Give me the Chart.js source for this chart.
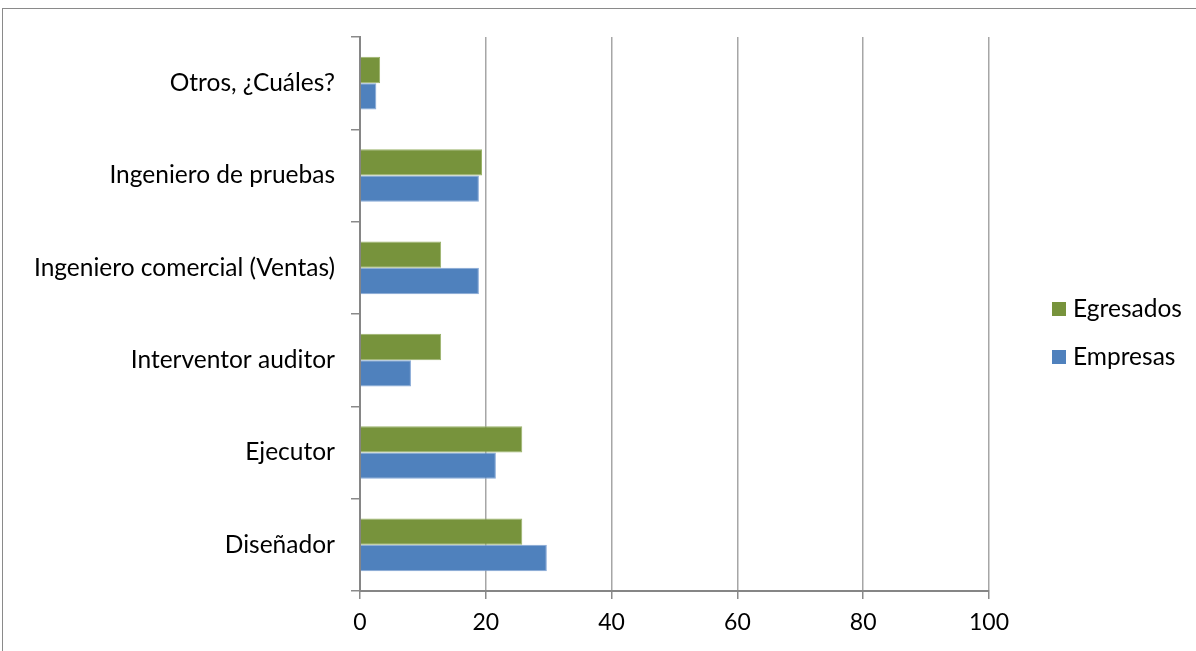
<!DOCTYPE html>
<html>
<head>
<meta charset="utf-8">
<script src="https://cdn.jsdelivr.net/npm/chart.js@4/dist/chart.umd.min.js"></script>
<style>
  html, body { margin: 0; padding: 0; background: #fff; overflow: hidden; }
  #wrap { position: absolute; left: 0; top: 0; width: 1196px; height: 651px; }
  #frame { position: absolute; left: 2px; top: 8px; width: 1300px; height: 700px; border: 1px solid #8a8a8a; box-sizing: border-box; pointer-events: none; }
  canvas { position: absolute; left: 0; top: 0; }
</style>
</head>
<body>
<div id="wrap">
  <div id="frame"></div>
  <canvas id="c" width="1196" height="651"></canvas>
</div>
<script>
// Roles, listed top to bottom
const categories = [
  'Otros, ¿Cuáles?',
  'Ingeniero de pruebas',
  'Ingeniero comercial (Ventas)',
  'Interventor auditor',
  'Ejecutor',
  'Diseñador'
];
const egresados = [3.2, 19.4, 12.9, 12.9, 25.8, 25.8];
const empresas  = [2.6, 18.9, 18.9, 8.1, 21.6, 29.7];
const seriesNames = ['Egresados', 'Empresas'];
const xTicks = [0, 20, 40, 60, 80, 100];

const FONT = 'Lato, "Open Sans", sans-serif';

// Legend drawn at the right, one row per series
const sideLegend = {
  id: 'sideLegend',
  afterDraw(chart) {
    const ctx = chart.ctx;
    ctx.save();
    chart.data.datasets.forEach((ds, i) => {
      const y = 302 + i * 48;
      ctx.fillStyle = ds.backgroundColor;
      ctx.fillRect(1052, y, 14, 14);
      ctx.fillStyle = '#000';
      ctx.font = '24.5px ' + FONT;
      ctx.textAlign = 'left';
      ctx.textBaseline = 'middle';
      ctx.fillText(ds.label, 1073, y + 7);
    });
    ctx.restore();
  }
};

new Chart(document.getElementById('c'), {
  type: 'bar',
  data: {
    labels: categories,
    datasets: [
      { label: seriesNames[0], data: egresados, backgroundColor: '#77933C', borderColor: '#9bb36a', borderWidth: 1, borderSkipped: 'start' },
      { label: seriesNames[1], data: empresas,  backgroundColor: '#4F81BD', borderColor: '#86a8d6', borderWidth: 1, borderSkipped: 'start' }
    ]
  },
  options: {
    indexAxis: 'y',
    responsive: false,
    animation: false,
    devicePixelRatio: 1,
    layout: { padding: { top: 37, right: 207, left: 0, bottom: 0 } },
    datasets: { bar: { categoryPercentage: 0.57, barPercentage: 1.0 } },
    plugins: { legend: { display: false }, tooltip: { enabled: false } },
    scales: {
      x: {
        min: 0, max: 100,
        afterBuildTicks(scale) { scale.ticks = xTicks.map(v => ({ value: v })); },
        afterFit(scale) { scale.height = 60; },
        grid: { color: '#a6a6a6', lineWidth: 1.5, tickLength: 8, tickColor: '#8a8a8a', drawTicks: true },
        border: { color: '#868686', width: 2 },
        ticks: { color: '#000', font: { family: FONT, size: 23 }, padding: 10 }
      },
      y: {
        afterFit(scale) { scale.width = 360; },
        offset: true,
        grid: { offset: true, drawOnChartArea: false, tickLength: 9, color: '#8a8a8a', lineWidth: 1.5 },
        border: { color: '#868686', width: 2 },
        ticks: { color: '#000', font: { family: FONT, size: 24.5 }, padding: 16 }
      }
    }
  },
  plugins: [sideLegend]
});
</script>
</body>
</html>
